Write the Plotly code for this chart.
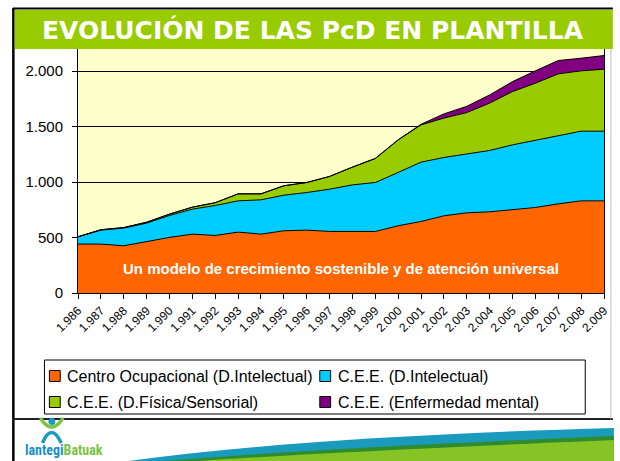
import plotly.graph_objects as go

# ---------------- data ----------------
years = ["1.986", "1.987", "1.988", "1.989", "1.990", "1.991", "1.992", "1.993",
         "1.994", "1.995", "1.996", "1.997", "1.998", "1.999", "2.000", "2.001",
         "2.002", "2.003", "2.004", "2.005", "2.006", "2.007", "2.008", "2.009"]
centro_ocupacional = [441, 441, 426, 465, 501, 531, 519, 549, 531, 561, 567, 555,
                      555, 555, 606, 645, 696, 723, 732, 750, 771, 804, 831, 831]
cee_intelectual = [66, 126, 159, 165, 198, 225, 270, 282, 309, 321, 339, 381,
                   420, 441, 481, 535, 526, 532, 553, 586, 604, 613, 628, 628]
cee_fisica = [0, 3, 5, 8, 12, 18, 25, 63, 54, 85, 90, 115,
              160, 217, 294, 336, 355, 372, 427, 480, 517, 559, 544, 559]
cee_mental = [0, 0, 0, 0, 0, 0, 0, 0, 0, 0, 0, 0,
              0, 0, 0, 5, 38, 56, 74, 90, 111, 120, 114, 123]
series_names = ["Centro Ocupacional (D.Intelectual)", "C.E.E. (D.Intelectual)",
                "C.E.E. (D.Física/Sensorial)", "C.E.E. (Enfermedad mental)"]
series_colors = ["#FF6600", "#00CCFF", "#99CC00", "#800080"]
ytick_vals = [0, 500, 1000, 1500, 2000]
ytick_text = ["0", "500", "1.000", "1.500", "2.000"]
title_text = "EVOLUCIÓN DE LAS PcD EN PLANTILLA"
note_text = "Un modelo de crecimiento sostenible y de atención universal"

# ---------------- geometry helpers ----------------
W, H = 620, 461
ML, MR, MT, MB = 78, 9, 49, 168
PW, PH = W - ML - MR, H - MT - MB


def px(x):
    return (x - ML) / PW


def py(y):
    return (H - MB - y) / PH


fig = go.Figure()
for vals, name, col in zip([centro_ocupacional, cee_intelectual, cee_fisica, cee_mental],
                           series_names, series_colors):
    fig.add_trace(go.Scatter(
        x=years, y=vals, name=name, mode="lines", stackgroup="one",
        fillcolor=col, line=dict(color="black", width=1), showlegend=False,
        hoverinfo="skip"))

AX_FONT = "Liberation Sans, Arial, sans-serif"

fig.update_layout(
    width=W, height=H,
    margin=dict(l=ML, r=MR, t=MT, b=MB, pad=0),
    paper_bgcolor="white", plot_bgcolor="#FFFFCC",
    font=dict(family=AX_FONT, color="black"),
    xaxis=dict(type="category", range=[0, len(years) - 1], showgrid=False,
               showline=True, linecolor="black", linewidth=1, mirror=True,
               ticks="outside", ticklen=5, tickcolor="black", tickangle=-45,
               tickfont=dict(size=12, color="black")),
    yaxis=dict(range=[0, 2200], tickvals=ytick_vals, ticktext=ytick_text,
               showgrid=True, gridcolor="black", gridwidth=1, zeroline=False,
               showline=True, linecolor="black", linewidth=1, mirror=True,
               ticks="outside", ticklen=5, tickcolor="black",
               ticklabelstandoff=6, tickfont=dict(size=15, color="black")),
)

shapes = []
annotations = []

# outer frame
shapes.append(dict(type="line", xref="paper", yref="paper", x0=px(12.5), x1=px(12.5),
                   y0=py(8), y1=py(461), line=dict(color="black", width=2.5)))
shapes.append(dict(type="line", xref="paper", yref="paper", x0=px(12), x1=px(620),
                   y0=py(8.5), y1=py(8.5), line=dict(color="black", width=2)))
shapes.append(dict(type="line", xref="paper", yref="paper", x0=px(12), x1=px(620),
                   y0=py(419), y1=py(419), line=dict(color="#222222", width=2)))
shapes.append(dict(type="line", xref="paper", yref="paper", x0=px(618), x1=px(618),
                   y0=py(49), y1=py(419), line=dict(color="#bbbbbb", width=1)))
# title bar
shapes.append(dict(type="rect", xref="paper", yref="paper", x0=px(14), x1=px(620),
                   y0=py(49), y1=py(10), fillcolor="#99CC00", line=dict(width=0),
                   layer="above"))
annotations.append(dict(text="<b>" + title_text + "</b>", xref="paper", yref="paper",
                        x=px(316), y=py(30),
                        xanchor="center", yanchor="middle", showarrow=False,
                        font=dict(family="DejaVu Sans, sans-serif", size=25, color="white")))

# note inside the chart
annotations.append(dict(text="<b>" + note_text + "</b>", xref="paper", yref="y",
                        x=px(344), y=220, xanchor="center", yanchor="middle",
                        showarrow=False,
                        font=dict(family=AX_FONT, size=15, color="white")))

# legend box (drawn manually to match the Excel style)
shapes.append(dict(type="rect", xref="paper", yref="paper", x0=px(44), x1=px(592),
                   y0=py(414), y1=py(360), fillcolor="white",
                   line=dict(color="black", width=1)))
leg_pos = [(49, 376), (323, 376), (49, 402), (323, 402)]
for (lx, ly), name, col in zip(leg_pos, series_names, series_colors):
    shapes.append(dict(type="rect", xref="paper", yref="paper", x0=px(lx), x1=px(lx + 11),
                       y0=py(ly + 5.5), y1=py(ly - 5.5), fillcolor=col,
                       line=dict(color="black", width=1)))
    annotations.append(dict(text=name, xref="paper", yref="paper", x=px(lx + 16), y=py(ly),
                            xanchor="left", yanchor="middle", showarrow=False,
                            font=dict(family=AX_FONT, size=16, color="black")))

# footer waves
shapes.append(dict(type="path", xref="paper", yref="paper", line=dict(width=0),
                   fillcolor="#1A9BBE",
                   path=f"M {px(122)},{py(462)} Q {px(300)},{py(437)} {px(621)},{py(428)} "
                        f"L {px(621)},{py(462)} Z"))
shapes.append(dict(type="path", xref="paper", yref="paper", line=dict(width=0),
                   fillcolor="#2E8B2E",
                   path=f"M {px(150)},{py(462)} Q {px(320)},{py(448)} {px(621)},{py(436)} "
                        f"L {px(621)},{py(462)} Z"))
shapes.append(dict(type="path", xref="paper", yref="paper", line=dict(width=0),
                   fillcolor="#86C426",
                   path=f"M {px(185)},{py(462)} Q {px(330)},{py(452)} {px(621)},{py(440)} "
                        f"L {px(621)},{py(462)} Z"))

# logo icon
shapes.append(dict(type="circle", xref="paper", yref="paper", x0=px(48), x1=px(55),
                   y0=py(425), y1=py(418), fillcolor="#1A9BBE", line=dict(width=0)))
shapes.append(dict(type="path", xref="paper", yref="paper",
                   line=dict(color="#7DC242", width=3.5),
                   path=f"M {px(40)},{py(418)} Q {px(51)},{py(436)} {px(63)},{py(418)}"))
shapes.append(dict(type="path", xref="paper", yref="paper",
                   line=dict(color="#1A9BBE", width=3.5),
                   path=f"M {px(42)},{py(443)} Q {px(51)},{py(422)} {px(61)},{py(443)}"))
annotations.append(dict(
    text="<b><span style='color:#1A8FC4'>lantegi</span><span style='color:#7DC242'>Batuak</span></b>",
    xref="paper", yref="paper", x=px(22), y=py(450), xanchor="left", yanchor="middle",
    showarrow=False, font=dict(family="Liberation Sans Narrow, Roboto Condensed, Roboto, sans-serif",
                               size=14)))

fig.update_layout(shapes=shapes, annotations=annotations)
fig.write_html("out.html", config={"displayModeBar": False},
               post_script="document.body.style.margin='0';document.body.style.overflow='hidden';")
